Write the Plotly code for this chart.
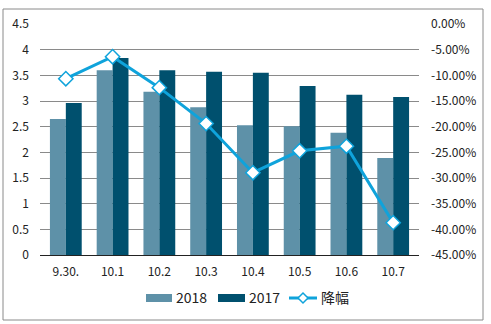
import plotly.graph_objects as go

categories = ["9.30.", "10.1", "10.2", "10.3", "10.4", "10.5", "10.6", "10.7"]
values_2018 = [2.65, 3.60, 3.18, 2.88, 2.53, 2.51, 2.38, 1.89]
values_2017 = [2.96, 3.84, 3.60, 3.57, 3.55, 3.29, 3.12, 3.08]
decline_pct = [-10.65, -6.37, -12.4, -19.4, -28.97, -24.7, -23.8, -38.7]

left_ticks = [0, 0.5, 1, 1.5, 2, 2.5, 3, 3.5, 4, 4.5]
left_labels = ["0", "0.5", "1", "1.5", "2", "2.5", "3", "3.5", "4", "4.5"]
right_ticks = [0, -5, -10, -15, -20, -25, -30, -35, -40, -45]
right_labels = ["0.00%", "-5.00%", "-10.00%", "-15.00%", "-20.00%", "-25.00%",
                "-30.00%", "-35.00%", "-40.00%", "-45.00%"]
series_names = ["2018", "2017", "降幅"]

FONT = "Noto Sans CJK SC, DejaVu Sans, sans-serif"
C18, C17, CL = "#5E91A8", "#00506E", "#0FA3DB"

# plot-area geometry in pixels (used to place legend/border in paper units)
L, R, T, B = 40, 419, 24, 255
def px(x):
    return (x - L) / (R - L)
def py(y):
    return (B - y) / (B - T)

fig = go.Figure()
fig.add_trace(go.Bar(x=categories, y=values_2018, name=series_names[0],
                     marker=dict(color=C18, line=dict(width=0))))
fig.add_trace(go.Bar(x=categories, y=values_2017, name=series_names[1],
                     marker=dict(color=C17, line=dict(width=0))))
fig.add_trace(go.Scatter(x=categories, y=decline_pct, name=series_names[2], yaxis="y2",
                         mode="lines+markers",
                         line=dict(color=CL, width=3),
                         marker=dict(symbol="diamond", size=11, color="white",
                                     line=dict(color=CL, width=1.5))))

shapes = [dict(type="rect", xref="paper", yref="paper",
               x0=px(3), x1=px(483), y0=py(320), y1=py(9),
               line=dict(color="#8a8a8a", width=1), fillcolor="rgba(0,0,0,0)",
               layer="below")]
# legend swatches
ly = 298
shapes.append(dict(type="rect", xref="paper", yref="paper", x0=px(146), x1=px(172),
                   y0=py(ly + 4), y1=py(ly - 4), fillcolor=C18, line=dict(width=0)))
shapes.append(dict(type="rect", xref="paper", yref="paper", x0=px(218), x1=px(245),
                   y0=py(ly + 4), y1=py(ly - 4), fillcolor=C17, line=dict(width=0)))
shapes.append(dict(type="line", xref="paper", yref="paper", x0=px(289), x1=px(317),
                   y0=py(ly), y1=py(ly), line=dict(color=CL, width=3)))
cx, cy, d = 303, ly, 5
shapes.append(dict(type="path", xref="paper", yref="paper",
                   path=f"M {px(cx - d)},{py(cy)} L {px(cx)},{py(cy - d)} "
                        f"L {px(cx + d)},{py(cy)} L {px(cx)},{py(cy + d)} Z",
                   fillcolor="white", line=dict(color=CL, width=1.5)))
annotations = []
for xx, t in [(174, series_names[0]), (247, series_names[1]), (319, series_names[2])]:
    annotations.append(dict(x=px(xx), y=py(ly - 1), xref="paper", yref="paper", text=t,
                            showarrow=False, xanchor="left", yanchor="middle",
                            font=dict(size=14, color="#222", family=FONT)))

fig.update_layout(
    width=491, height=324,
    margin=dict(l=L, r=491 - R, t=T, b=324 - B),
    paper_bgcolor="white", plot_bgcolor="white",
    font=dict(family=FONT, size=12, color="#222"),
    barmode="group", bargap=0.32, bargroupgap=0,
    showlegend=False,
    xaxis=dict(showgrid=False, ticks="", showline=True, linecolor="#222", linewidth=1,
               tickfont=dict(size=12), ticklabelstandoff=6, fixedrange=True),
    yaxis=dict(range=[0, 4.5], tickvals=left_ticks, ticktext=left_labels,
               showgrid=True, gridcolor="#8a8a8a", gridwidth=1, zeroline=False,
               showline=False, ticks="", ticklabelstandoff=10, tickfont=dict(size=12)),
    yaxis2=dict(range=[-45, 0], tickvals=right_ticks, ticktext=right_labels,
                overlaying="y", side="right", showgrid=False, zeroline=False,
                showline=False, ticks="", ticklabelstandoff=11, tickfont=dict(size=12)),
    shapes=shapes,
    annotations=annotations,
)

fig.write_html("out.html")
